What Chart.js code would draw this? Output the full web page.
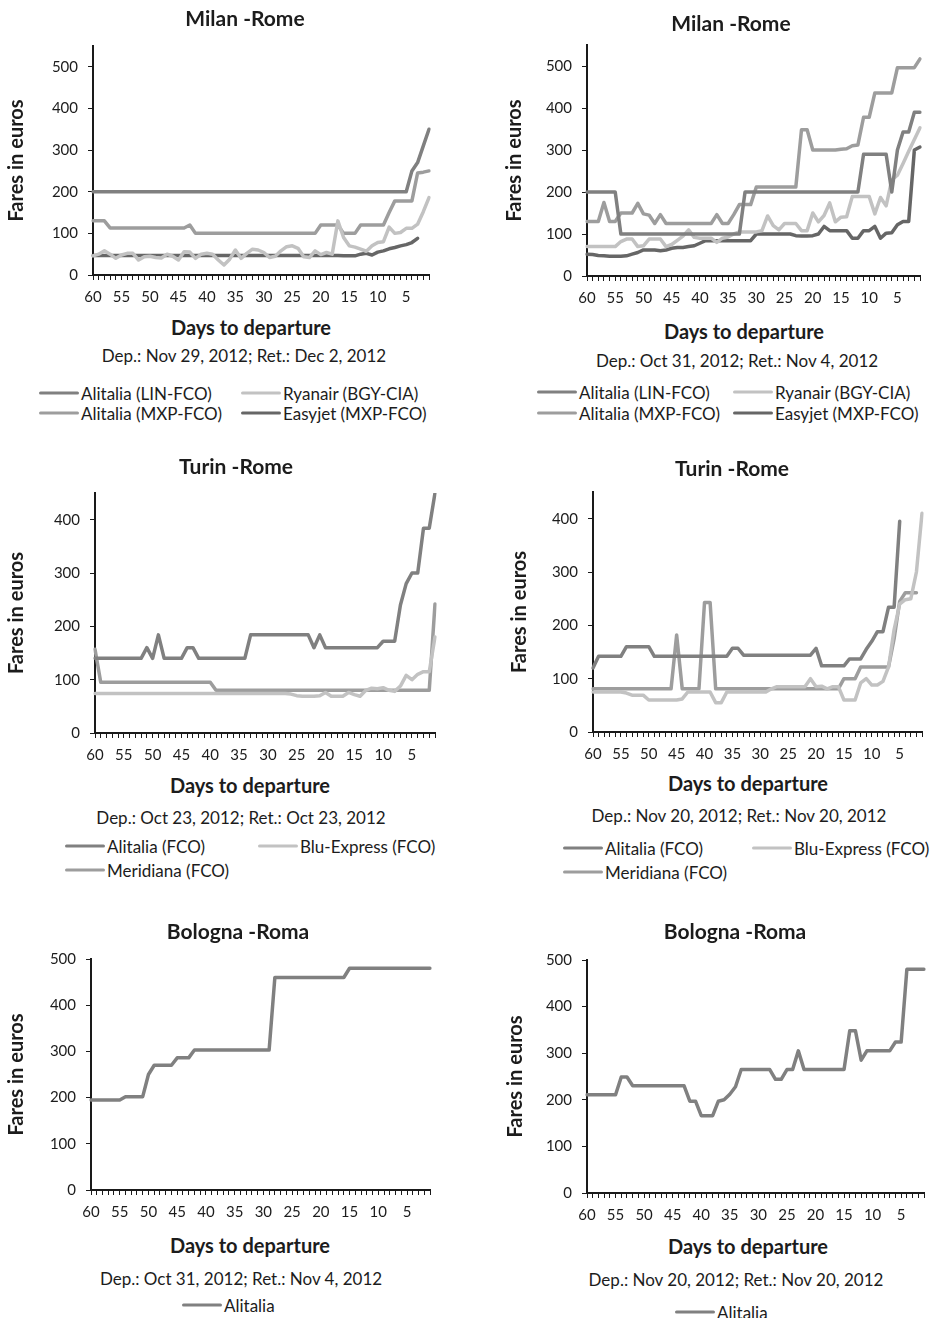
<!DOCTYPE html>
<html>
<head>
<meta charset="utf-8">
<title>Airfares to Rome by days before departure</title>
<script src="https://cdn.jsdelivr.net/npm/chart.js@4.4.1/dist/chart.umd.min.js"></script>
<style>
  html, body { margin: 0; padding: 0; background: #fff; }
  #page { position: relative; width: 932px; height: 1318px; overflow: hidden; font-family: 'Lato', sans-serif; color: #1c1c1c; }
  #page canvas { position: absolute; }
  .txt { position: absolute; white-space: nowrap; transform: translate(-50%, -50%); }
  .ttl { font-weight: bold; font-size: 21px; }
  .xt { font-weight: bold; font-size: 20px; }
  .sub { font-size: 17px; }
  .leg { position: absolute; white-space: nowrap; font-size: 17px; transform: translateY(-50%); display: flex; align-items: center; }
  .leg i { display: inline-block; width: 40px; height: 3.5px; margin-right: 2px; border-radius: 2px; }
</style>
</head>
<body>
<div id="page"></div>
<script>
// days before departure, left to right
const days = [60, 59, 58, 57, 56, 55, 54, 53, 52, 51, 50, 49, 48, 47, 46, 45, 44, 43, 42, 41,
  40, 39, 38, 37, 36, 35, 34, 33, 32, 31, 30, 29, 28, 27, 26, 25, 24, 23, 22, 21,
  20, 19, 18, 17, 16, 15, 14, 13, 12, 11, 10, 9, 8, 7, 6, 5, 4, 3, 2, 1];

// Milan - Rome, dep. Nov 29
const milanNovLin = [200, 200, 200, 200, 200, 200, 200, 200, 200, 200, 200, 200, 200, 200, 200, 200, 200, 200, 200, 200,
  200, 200, 200, 200, 200, 200, 200, 200, 200, 200, 200, 200, 200, 200, 200, 200, 200, 200, 200, 200,
  200, 200, 200, 200, 200, 200, 200, 200, 200, 200, 200, 200, 200, 200, 200, 200, 250, 270, 310, 350];
const milanNovRyanair = [46, 50, 58, 50, 40, 48, 52, 52, 36, 44, 45, 42, 41, 50, 45, 36, 56, 55, 40, 50,
  52, 50, 36, 24, 38, 60, 40, 52, 62, 60, 54, 42, 45, 58, 68, 70, 64, 44, 42, 58,
  49, 54, 50, 130, 90, 70, 67, 62, 57, 70, 78, 80, 115, 100, 102, 112, 112, 122, 152, 186];
const milanNovMxp = [130, 130, 130, 113, 113, 113, 113, 113, 113, 113, 113, 113, 113, 113, 113, 113, 113, 120, 100, 100,
  100, 100, 100, 100, 100, 100, 100, 100, 100, 100, 100, 100, 100, 100, 100, 100, 100, 100, 100, 100,
  120, 120, 120, 120, 100, 100, 100, 120, 120, 120, 120, 120, 150, 178, 178, 178, 178, 245, 247, 250];
const milanNovEasyjet = [47, 47, 47, 47, 47, 47, 47, 47, 47, 47, 47, 47, 47, 47, 47, 47, 47, 47, 47, 47,
  47, 47, 47, 47, 47, 47, 47, 47, 47, 47, 47, 47, 47, 47, 47, 47, 47, 47, 47, 47,
  47, 47, 47, 47, 46, 46, 46, 50, 52, 48, 55, 58, 63, 66, 70, 73, 78, 88, null, null];

// Milan - Rome, dep. Oct 31
const milanOctLin = [200, 200, 200, 200, 200, 200, 100, 100, 100, 100, 100, 100, 100, 100, 100, 100, 100, 100, 100, 100,
  100, 100, 100, 100, 100, 100, 100, 100, 200, 200, 200, 200, 200, 200, 200, 200, 200, 200, 200, 200,
  200, 200, 200, 200, 200, 200, 200, 200, 200, 290, 290, 290, 290, 290, 200, 300, 343, 343, 390, 390];
const milanOctRyanair = [70, 70, 70, 70, 70, 70, 82, 88, 88, 70, 72, 88, 88, 88, 70, 75, 85, 95, 110, 92,
  90, 90, 90, 80, 90, 93, 100, 105, 105, 105, 105, 108, 143, 120, 110, 125, 125, 125, 108, 108,
  150, 129, 144, 174, 129, 140, 141, 189, 189, 189, 189, 148, 187, 167, 229, 240, 268, 297, 325, 353];
const milanOctMxp = [130, 130, 130, 175, 130, 130, 150, 150, 150, 173, 148, 145, 125, 146, 125, 125, 125, 125, 125, 125,
  125, 125, 125, 146, 125, 125, 146, 170, 170, 170, 212, 212, 212, 212, 212, 212, 212, 212, 348, 348,
  300, 300, 300, 300, 300, 302, 303, 310, 312, 378, 378, 436, 436, 436, 436, 496, 496, 496, 496, 517];
const milanOctEasyjet = [52, 51, 49, 48, 47, 47, 47, 48, 52, 56, 62, 62, 62, 60, 62, 66, 68, 68, 70, 72,
  78, 84, 84, 84, 84, 84, 84, 84, 84, 84, 100, 100, 100, 100, 100, 100, 100, 96, 95, 95,
  96, 100, 118, 108, 108, 108, 108, 90, 90, 108, 108, 118, 90, 102, 103, 122, 130, 130, 300, 307];

// Turin - Rome, dep. Oct 23
const turinOctAlitalia = [140, 140, 140, 140, 140, 140, 140, 140, 140, 160, 140, 184, 140, 140, 140, 140, 160, 160, 140, 140,
  140, 140, 140, 140, 140, 140, 140, 184, 184, 184, 184, 184, 184, 184, 184, 184, 184, 184, 160, 184,
  160, 160, 160, 160, 160, 160, 160, 160, 160, 160, 172, 172, 172, 240, 280, 300, 300, 384, 384, 450];
const turinOctBlu = [74, 74, 74, 74, 74, 74, 74, 74, 74, 74, 74, 74, 74, 74, 74, 74, 74, 74, 74, 74,
  74, 74, 74, 74, 74, 74, 74, 74, 74, 74, 74, 74, 74, 74, 73, 70, 69, 69, 69, 70,
  76, 69, 69, 69, 76, 72, 69, 80, 84, 83, 85, 80, 78, 88, 108, 100, 110, 115, 115, 180];
const turinOctMeridiana = [157, 95, 95, 95, 95, 95, 95, 95, 95, 95, 95, 95, 95, 95, 95, 95, 95, 95, 95, 95,
  95, 80, 80, 80, 80, 80, 80, 80, 80, 80, 80, 80, 80, 80, 80, 80, 80, 80, 80, 80,
  80, 80, 80, 80, 80, 80, 80, 80, 80, 80, 80, 80, 80, 80, 80, 80, 80, 80, 80, 242];

// Turin - Rome, dep. Nov 20
const turinNovAlitalia = [120, 142, 142, 142, 142, 142, 160, 160, 160, 160, 160, 142, 142, 142, 142, 142, 142, 142, 142, 142,
  142, 142, 142, 142, 142, 157, 157, 144, 144, 144, 144, 144, 144, 144, 144, 144, 144, 144, 144, 144,
  157, 124, 124, 124, 124, 124, 137, 137, 137, 155, 170, 188, 188, 234, 234, 395, null, null, null, null];
const turinNovBlu = [75, 75, 75, 75, 75, 75, 73, 69, 69, 69, 60, 60, 60, 60, 60, 60, 62, 75, 75, 75,
  75, 75, 55, 55, 75, 75, 75, 75, 75, 75, 75, 75, 81, 85, 85, 85, 85, 85, 85, 100,
  85, 86, 81, 85, 85, 60, 60, 60, 92, 100, 88, 88, 95, 122, 192, 240, 248, 250, 300, 410];
const turinNovMeridiana = [81, 81, 81, 81, 81, 81, 81, 81, 81, 81, 81, 81, 81, 81, 81, 182, 81, 81, 81, 81,
  243, 243, 81, 81, 81, 81, 81, 81, 81, 81, 81, 81, 81, 81, 81, 81, 81, 81, 81, 81,
  81, 81, 81, 81, 81, 100, 100, 100, 122, 122, 122, 122, 122, 122, 175, 245, 261, 261, 261, null];

// Bologna - Roma
const bolognaOct = [195, 195, 195, 195, 195, 195, 202, 202, 202, 202, 250, 270, 270, 270, 270, 286, 286, 286, 303, 303,
  303, 303, 303, 303, 303, 303, 303, 303, 303, 303, 303, 303, 460, 460, 460, 460, 460, 460, 460, 460,
  460, 460, 460, 460, 460, 480, 480, 480, 480, 480, 480, 480, 480, 480, 480, 480, 480, 480, 480, 480];
const bolognaNov = [211, 211, 211, 211, 211, 211, 249, 249, 230, 230, 230, 230, 230, 230, 230, 230, 230, 230, 197, 197,
  166, 166, 166, 197, 200, 212, 228, 265, 265, 265, 265, 265, 265, 244, 244, 265, 265, 305, 265, 265,
  265, 265, 265, 265, 265, 265, 348, 348, 285, 305, 305, 305, 305, 305, 324, 324, 480, 480, 480, 480];

const INK = '#1c1c1c';
const AXIS = '#1a1a1a';
const C_ALITALIA = '#808080';
const C_MID = '#9d9d9d';
const C_LIGHT = '#c2c2c2';
const C_DARK = '#666666';
const AXIS_TITLE_SIZE = 20;

Chart.defaults.font.family = "'Lato', sans-serif";
Chart.defaults.color = INK;

const panels = [
  {
    plot: { l: 93, r: 431, t: 38.5, b: 275 }, left: 0, yTitleX: 17, yMax: 550,
    title: ['Milan -Rome', 245, 17], xTitle: [251, 327],
    sub: ['Dep.: Nov 29, 2012; Ret.: Dec 2, 2012', 244, 355],
    series: [
      ['Alitalia (LIN-FCO)', milanNovLin, C_ALITALIA],
      ['Ryanair (BGY-CIA)', milanNovRyanair, C_LIGHT],
      ['Alitalia (MXP-FCO)', milanNovMxp, C_MID],
      ['Easyjet (MXP-FCO)', milanNovEasyjet, C_DARK]
    ],
    legend: [[39, 393], [241, 393], [39, 413], [241, 413]]
  },
  {
    plot: { l: 587, r: 922, t: 37.5, b: 276 }, left: 500, yTitleX: 515, yMax: 550,
    title: ['Milan -Rome', 731, 22], xTitle: [744, 331],
    sub: ['Dep.: Oct 31, 2012; Ret.: Nov 4, 2012', 737, 360],
    series: [
      ['Alitalia (LIN-FCO)', milanOctLin, C_ALITALIA],
      ['Ryanair (BGY-CIA)', milanOctRyanair, C_LIGHT],
      ['Alitalia (MXP-FCO)', milanOctMxp, C_MID],
      ['Easyjet (MXP-FCO)', milanOctEasyjet, C_DARK]
    ],
    legend: [[537, 392], [733, 392], [537, 413], [733, 413]]
  },
  {
    plot: { l: 95, r: 437, t: 485.5, b: 733 }, left: 0, yTitleX: 17, yMax: 450,
    title: ['Turin -Rome', 236, 465], xTitle: [250, 785],
    sub: ['Dep.: Oct 23, 2012; Ret.: Oct 23, 2012', 241, 817],
    series: [
      ['Alitalia (FCO)', turinOctAlitalia, C_ALITALIA],
      ['Blu-Express (FCO)', turinOctBlu, C_LIGHT],
      ['Meridiana (FCO)', turinOctMeridiana, C_MID]
    ],
    legend: [[65, 846], [258, 846], [65, 870]]
  },
  {
    plot: { l: 593, r: 924, t: 484.5, b: 732 }, left: 500, yTitleX: 520, yMax: 450,
    title: ['Turin -Rome', 732, 467], xTitle: [748, 783],
    sub: ['Dep.: Nov 20, 2012; Ret.: Nov 20, 2012', 739, 815],
    series: [
      ['Alitalia (FCO)', turinNovAlitalia, C_ALITALIA],
      ['Blu-Express (FCO)', turinNovBlu, C_LIGHT],
      ['Meridiana (FCO)', turinNovMeridiana, C_MID]
    ],
    legend: [[563, 848], [752, 848], [563, 872]]
  },
  {
    plot: { l: 91, r: 432, t: 952, b: 1190 }, left: 0, yTitleX: 17, yMax: 500,
    title: ['Bologna -Roma', 238, 930], xTitle: [250, 1245],
    sub: ['Dep.: Oct 31, 2012; Ret.: Nov 4, 2012', 241, 1278],
    series: [['Alitalia', bolognaOct, C_ALITALIA]],
    legend: [[182, 1305]]
  },
  {
    plot: { l: 587, r: 928, t: 953, b: 1193 }, left: 500, yTitleX: 516, yMax: 500,
    title: ['Bologna -Roma', 735, 930], xTitle: [748, 1246],
    sub: ['Dep.: Nov 20, 2012; Ret.: Nov 20, 2012', 736, 1279],
    series: [['Alitalia', bolognaNov, C_ALITALIA]],
    legend: [[675, 1312]]
  }
];

const page = document.getElementById('page');

function addText(cls, text, x, y) {
  const el = document.createElement('div');
  el.className = 'txt ' + cls;
  el.textContent = text;
  el.style.left = x + 'px';
  el.style.top = y + 'px';
  page.appendChild(el);
}

function addLegend(chart, spots) {
  chart.data.datasets.forEach((ds, i) => {
    const item = document.createElement('div');
    item.className = 'leg';
    item.style.left = spots[i][0] + 'px';
    item.style.top = spots[i][1] + 'px';
    const swatch = document.createElement('i');
    swatch.style.background = ds.borderColor;
    item.appendChild(swatch);
    item.appendChild(document.createTextNode(ds.label));
    page.appendChild(item);
  });
}

function drawPanel(p) {
  const padTop = 12;
  const right = Math.min(p.plot.r + 6, 932);
  const top = p.plot.t - padTop;
  const xHeight = 36;
  const canvas = document.createElement('canvas');
  const w = right - p.left;
  const h = p.plot.b + xHeight - top;
  canvas.width = w;
  canvas.height = h;
  canvas.style.left = p.left + 'px';
  canvas.style.top = top + 'px';
  canvas.style.width = w + 'px';
  canvas.style.height = h + 'px';
  page.appendChild(canvas);

  const tickFont = { size: 15 };
  const chart = new Chart(canvas.getContext('2d'), {
    type: 'line',
    data: {
      labels: days,
      datasets: p.series.map(([label, values, color]) => ({
        label: label,
        data: values,
        borderColor: color,
        backgroundColor: color,
        borderWidth: 3.5,
        pointRadius: 0,
        tension: 0,
        borderJoinStyle: 'round',
        borderCapStyle: 'round',
        fill: false
      }))
    },
    options: {
      responsive: false,
      animation: false,
      layout: { padding: { top: padTop, right: right - p.plot.r, left: 0, bottom: 0 } },
      plugins: { legend: { display: false }, tooltip: { enabled: false } },
      scales: {
        x: {
          offset: false,
          grid: { drawOnChartArea: false, drawTicks: true, tickLength: 5, color: AXIS, lineWidth: 1 },
          border: { display: true, color: AXIS, width: 2 },
          ticks: {
            autoSkip: false, maxRotation: 0, padding: 8, color: INK, font: tickFont,
            callback: (v, i) => (i % 5 === 0 ? String(days[i]) : '')
          },
          afterFit: s => { s.height = xHeight; }
        },
        y: {
          min: 0,
          max: p.yMax,
          grid: { drawOnChartArea: false, drawTicks: true, tickLength: 5, color: AXIS, lineWidth: 1 },
          border: { display: true, color: AXIS, width: 2 },
          ticks: { stepSize: 100, includeBounds: false, padding: 10, color: INK, font: tickFont },
          title: {
            display: true,
            text: 'Fares in euros',
            color: INK,
            font: { size: AXIS_TITLE_SIZE, weight: 'bold' },
            padding: { top: p.yTitleX - p.left - AXIS_TITLE_SIZE * 0.6, bottom: 0 }
          },
          afterFit: s => { s.width = p.plot.l - p.left; }
        }
      }
    }
  });

  addText('ttl', p.title[0], p.title[1], p.title[2]);
  addText('xt', 'Days to departure', p.xTitle[0], p.xTitle[1]);
  addText('sub', p.sub[0], p.sub[1], p.sub[2]);
  addLegend(chart, p.legend);
}

panels.forEach(drawPanel);
</script>
</body>
</html>
